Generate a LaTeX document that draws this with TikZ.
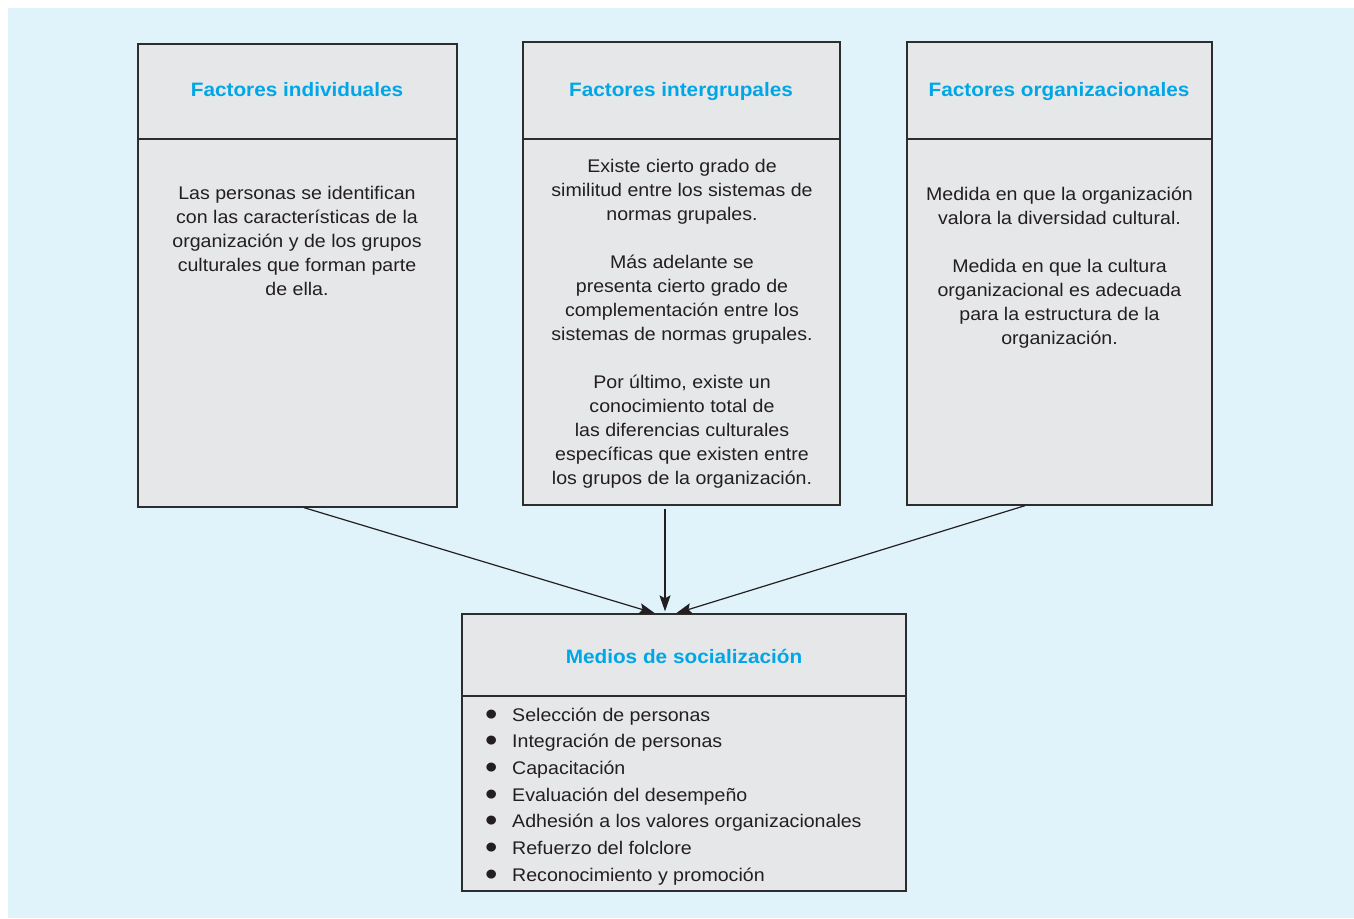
\documentclass[tikz,border=0pt]{standalone}
\usepackage{fontspec}
\setmainfont[FakeStretch=1.07]{Liberation Sans}
\usetikzlibrary{arrows.meta}
\definecolor{bgblue}{RGB}{224,243,251}
\definecolor{boxgray}{RGB}{230,231,232}
\definecolor{titleblue}{RGB}{0,166,230}
\definecolor{txt}{RGB}{35,31,32}
\definecolor{edge}{RGB}{45,45,45}
\newcommand\myblt{\makebox[25pt][l]{\hspace{-2pt}\raisebox{-4pt}{\fontsize{33}{33}\selectfont•}}}
\begin{document}
\begin{tikzpicture}[x=1pt,y=-1pt,
  box/.style={draw=edge, fill=boxgray, line width=1.3pt, inner sep=0pt, rectangle},
  ttl/.style={text=titleblue, font=\fontsize{19.4}{24}\selectfont\bfseries, inner sep=0pt, anchor=base},
  body/.style={text=txt, font=\fontsize{18.3}{24}\selectfont, align=center, inner sep=0pt, anchor=north},
  listtext/.style={text=txt, font=\fontsize{18.3}{26.67}\selectfont, align=left, inner sep=0pt, anchor=north west},
  conn/.style={draw=txt, line width=1.2pt, -{Stealth[length=16pt,width=11pt,inset=3pt]}}]
\useasboundingbox (0,0) rectangle (1354,918);
\fill[bgblue] (8,8) rectangle (1354,918);
% left
\node[box, minimum width=319pt, minimum height=95pt] (h1) at (297.5,91.5) {};
\node[box, minimum width=319pt, minimum height=368pt] (b1) at (297.5,323) {};
% middle
\node[box, minimum width=317pt, minimum height=97pt] (h2) at (681.5,90.5) {};
\node[box, minimum width=317pt, minimum height=366pt] (b2) at (681.5,322) {};
% right
\node[box, minimum width=305pt, minimum height=97pt] (h3) at (1059.5,90.5) {};
\node[box, minimum width=305pt, minimum height=366pt] (b3) at (1059.5,322) {};
% bottom
\node[box, minimum width=444pt, minimum height=82pt] (h4) at (684,655) {};
\node[box, minimum width=444pt, minimum height=195pt] (b4) at (684,793.5) {};
% titles
\node[ttl] (t1) at (297,96) {Factores individuales};
\node[ttl] (t2) at (681,96) {Factores intergrupales};
\node[ttl] (t3) at (1059,96) {Factores organizacionales};
\node[ttl] (t4) at (684,663) {Medios de socialización};
% body texts
\node[body] (x1) at (297,186.5) {Las personas se identifican\\con las características de la\\organización y de los grupos\\culturales que forman parte\\de ella.};
\node[body] (x2) at (682,159.5) {Existe cierto grado de\\similitud entre los sistemas de\\normas grupales.\\[24pt]Más adelante se\\presenta cierto grado de\\complementación entre los\\sistemas de normas grupales.\\[24pt]Por último, existe un\\conocimiento total de\\las diferencias culturales\\específicas que existen entre\\los grupos de la organización.};
\node[body] (x3) at (1059.5,186.5) {Medida en que la organización\\valora la diversidad cultural.\\[24pt]Medida en que la cultura\\organizacional es adecuada\\para la estructura de la\\organización.};
\node[listtext] (x4) at (487,707.4) {\myblt Selección de personas\\\myblt Integración de personas\\\myblt Capacitación\\\myblt Evaluación del desempeño\\\myblt Adhesión a los valores organizacionales\\\myblt Refuerzo del folclore\\\myblt Reconocimiento y promoción};
% connectors
\draw[conn] ([xshift=6.5pt]b1.south) -- ([xshift=-29pt]h4.north);
\draw[conn, shorten <=3pt, shorten >=2pt] ([xshift=-16.5pt]b2.south) -- ([xshift=-19pt]h4.north);
\draw[conn] ([xshift=-34.5pt]b3.south) -- ([xshift=-8pt]h4.north);
\end{tikzpicture}
\end{document}
